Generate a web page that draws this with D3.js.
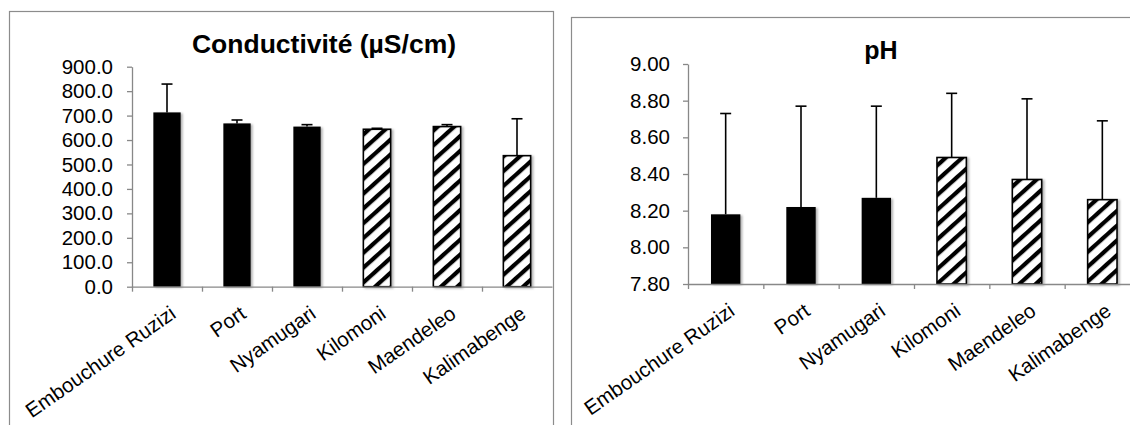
<!DOCTYPE html>
<html>
<head>
<meta charset="utf-8">
<script src="https://cdn.jsdelivr.net/npm/d3@7"></script>
<style>
  body { margin: 0; background: #fff; }
  svg { display: block; font-family: "Liberation Sans", Arial, sans-serif; }
</style>
</head>
<body>
<div id="chart"></div>
<script>
// Data
const sites = ["Embouchure Ruzizi", "Port", "Nyamugari", "Kilomoni", "Maendeleo", "Kalimabenge"];
const siteGroup = [0, 0, 0, 1, 1, 1]; // 0 = solid bars, 1 = hatched bars

const conductivity = [713, 668, 655, 644, 655, 536];
const conductivityErr = [116, 14, 8, 4, 8, 151];
const conductivityTicks = [0, 100, 200, 300, 400, 500, 600, 700, 800, 900];

const ph = [8.18, 8.22, 8.27, 8.49, 8.37, 8.26];
const phErr = [0.55, 0.55, 0.50, 0.35, 0.44, 0.43];
const phTicks = [7.8, 8.0, 8.2, 8.4, 8.6, 8.8, 9.0];

const axisColor = "#888";

const svg = d3.select("#chart")
    .append("svg")
    .attr("width", 1130)
    .attr("height", 425);

const defs = svg.append("defs");

// Wide upward diagonal hatch
const hatch = defs.append("pattern")
    .attr("id", "hatch")
    .attr("patternUnits", "userSpaceOnUse")
    .attr("width", 10)
    .attr("height", 11)
    .attr("patternTransform", "rotate(-42)");
hatch.append("rect").attr("width", 10).attr("height", 11).attr("fill", "#fff");
hatch.append("rect").attr("width", 10).attr("height", 4.2).attr("fill", "#000");

// Soft shadow like the office chart style
const shadow = defs.append("filter")
    .attr("id", "shadow")
    .attr("x", "-20%").attr("y", "-5%")
    .attr("width", "150%").attr("height", "115%");
shadow.append("feDropShadow")
    .attr("dx", 2).attr("dy", 1)
    .attr("stdDeviation", 1.3)
    .attr("flood-color", "#000")
    .attr("flood-opacity", 0.3);

const drawChart = ({ frame, title, titleX, titleY, titleSize, left, right, top, bottom, domain, ticks, format, values, errors, tickPadding }) => {
    // Outer frame
    svg.append("rect")
        .attr("x", frame.x + 0.5)
        .attr("y", frame.y + 0.5)
        .attr("width", frame.w)
        .attr("height", frame.h)
        .attr("fill", "#fff")
        .attr("stroke", "#8c8c8c")
        .attr("stroke-width", 1.2);

    const g = svg.append("g");

    // Scales
    const x = d3.scaleBand()
        .domain(sites)
        .range([left, right])
        .padding(0);

    const xIdx = d3.scaleLinear()
        .domain([0, sites.length])
        .range([left, right]);

    const y = d3.scaleLinear()
        .domain(domain)
        .range([bottom, top]);

    // Title
    g.append("text")
        .attr("x", titleX)
        .attr("y", titleY)
        .attr("text-anchor", "middle")
        .attr("font-size", titleSize)
        .attr("font-weight", "bold")
        .attr("fill", "#000")
        .text(title);

    // Y axis
    const yAxis = g.append("g")
        .attr("transform", `translate(${left},0)`)
        .call(d3.axisLeft(y)
            .tickValues(ticks)
            .tickFormat(d3.format(format))
            .tickSize(5)
            .tickSizeOuter(0)
            .tickPadding(tickPadding));
    yAxis.select(".domain").attr("stroke", axisColor).attr("stroke-width", 1.3);
    yAxis.selectAll(".tick line").attr("stroke", axisColor).attr("stroke-width", 1.3);
    yAxis.selectAll(".tick text")
        .attr("fill", "#000")
        .style("font-size", "20.5px")
        .style("font-family", "\"Liberation Sans\", Arial, sans-serif");

    // Bars
    const barW = x.bandwidth() * 0.39;
    const bars = sites.map((s, i) => ({ site: s, value: values[i], err: errors[i], group: siteGroup[i] }));

    g.append("g")
        .selectAll("rect")
        .data(bars)
        .join("rect")
        .attr("x", d => x(d.site) + x.bandwidth() / 2 - barW / 2)
        .attr("y", d => y(d.value))
        .attr("width", barW)
        .attr("height", d => y(domain[0]) - y(d.value))
        .attr("fill", d => d.group === 1 ? "url(#hatch)" : "#000")
        .attr("stroke", "#000")
        .attr("stroke-width", d => d.group === 1 ? 1.6 : 0)
        .attr("filter", "url(#shadow)");

    // Error bars (positive only)
    const err = g.append("g")
        .attr("stroke", "#000")
        .attr("stroke-width", 1.6)
        .selectAll("g")
        .data(bars)
        .join("g")
        .attr("transform", d => `translate(${x(d.site) + x.bandwidth() / 2},0)`);

    err.append("line")
        .attr("y1", d => y(d.value))
        .attr("y2", d => y(d.value + d.err));

    err.append("line")
        .attr("x1", -5.5)
        .attr("x2", 5.5)
        .attr("y1", d => y(d.value + d.err))
        .attr("y2", d => y(d.value + d.err));

    // X axis with ticks on category boundaries
    const xAxis = g.append("g")
        .attr("transform", `translate(0,${bottom})`)
        .call(d3.axisBottom(xIdx)
            .tickValues(d3.range(sites.length))
            .tickFormat("")
            .tickSize(5)
            .tickSizeOuter(0));
    xAxis.select(".domain").attr("stroke", axisColor).attr("stroke-width", 1.3);
    xAxis.selectAll(".tick line").attr("stroke", axisColor).attr("stroke-width", 1.3);

    // Rotated category labels
    g.append("g")
        .selectAll("text")
        .data(sites)
        .join("text")
        .attr("transform", d => `translate(${x(d) + x.bandwidth() / 2 + 2},${bottom + 18}) rotate(-35)`)
        .attr("dy", "0.71em")
        .attr("text-anchor", "end")
        .attr("font-size", "20.5px")
        .attr("fill", "#000")
        .text(d => d);
};

drawChart({
    frame: { x: 9, y: 11, w: 544, h: 500 },
    title: "Conductivité (µS/cm)",
    titleX: 324, titleY: 53, titleSize: "26.5px",
    left: 132, right: 552, top: 66.7, bottom: 286.7,
    domain: [0, 900],
    ticks: conductivityTicks,
    format: ".1f",
    values: conductivity,
    errors: conductivityErr,
    tickPadding: 14
});

drawChart({
    frame: { x: 571, y: 17, w: 600, h: 500 },
    title: "pH",
    titleX: 881, titleY: 59, titleSize: "25px",
    left: 688, right: 1140, top: 64, bottom: 284,
    domain: [7.8, 9.0],
    ticks: phTicks,
    format: ".2f",
    values: ph,
    errors: phErr,
    tickPadding: 13
});
</script>
</body>
</html>
